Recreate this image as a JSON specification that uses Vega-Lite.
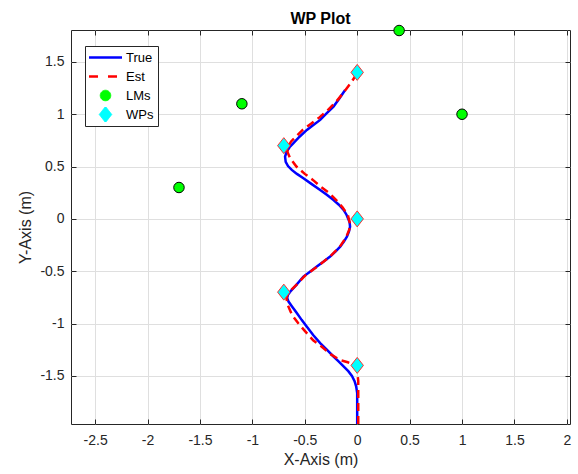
{
  "$schema": "https://vega.github.io/schema/vega-lite/v6.json",
  "autosize": "none",
  "width": 499,
  "height": 394,
  "padding": {"left": 71, "top": 30, "right": 8, "bottom": 50},
  "title": {"text": "WP Plot", "font": "Liberation Sans", "fontSize": 16, "fontWeight": "bold", "color": "#000000", "offset": -4},
  "config": {
    "view": {"stroke": "#262626", "strokeWidth": 1},
    "font": "Liberation Sans",
    "axis": {
      "domain": false,
      "grid": true,
      "gridColor": "#dfdfdf",
      "gridWidth": 1,
      "tickColor": "#262626",
      "tickSize": -5,
      "tickWidth": 1,
      "labelFont": "Liberation Sans",
      "labelFontSize": 14,
      "labelColor": "#262626",
      "labelExpr": "'' + datum.value",
      "titleFont": "Liberation Sans",
      "titleFontSize": 16,
      "titleFontWeight": "normal",
      "titleColor": "#262626"
    }
  },
  "data": {
    "values": [
      {"series": "True", "i": 1, "x": 0.0, "y": -1.96},
      {"series": "True", "i": 2, "x": 0.0, "y": -1.8},
      {"series": "True", "i": 3, "x": 0.0, "y": -1.665},
      {"series": "True", "i": 4, "x": -0.01, "y": -1.6},
      {"series": "True", "i": 5, "x": -0.025, "y": -1.55},
      {"series": "True", "i": 6, "x": -0.05, "y": -1.5},
      {"series": "True", "i": 7, "x": -0.085, "y": -1.455},
      {"series": "True", "i": 8, "x": -0.13, "y": -1.41},
      {"series": "True", "i": 9, "x": -0.18, "y": -1.36},
      {"series": "True", "i": 10, "x": -0.226, "y": -1.315},
      {"series": "True", "i": 11, "x": -0.29, "y": -1.25},
      {"series": "True", "i": 12, "x": -0.353, "y": -1.187},
      {"series": "True", "i": 13, "x": -0.42, "y": -1.11},
      {"series": "True", "i": 14, "x": -0.48, "y": -1.03},
      {"series": "True", "i": 15, "x": -0.53, "y": -0.965},
      {"series": "True", "i": 16, "x": -0.576, "y": -0.9},
      {"series": "True", "i": 17, "x": -0.62, "y": -0.84},
      {"series": "True", "i": 18, "x": -0.655, "y": -0.79},
      {"series": "True", "i": 19, "x": -0.668, "y": -0.755},
      {"series": "True", "i": 20, "x": -0.66, "y": -0.725},
      {"series": "True", "i": 21, "x": -0.63, "y": -0.685},
      {"series": "True", "i": 22, "x": -0.58, "y": -0.63},
      {"series": "True", "i": 23, "x": -0.513, "y": -0.551},
      {"series": "True", "i": 24, "x": -0.45, "y": -0.505},
      {"series": "True", "i": 25, "x": -0.385, "y": -0.456},
      {"series": "True", "i": 26, "x": -0.32, "y": -0.408},
      {"series": "True", "i": 27, "x": -0.258, "y": -0.36},
      {"series": "True", "i": 28, "x": -0.205, "y": -0.31},
      {"series": "True", "i": 29, "x": -0.162, "y": -0.265},
      {"series": "True", "i": 30, "x": -0.125, "y": -0.215},
      {"series": "True", "i": 31, "x": -0.098, "y": -0.169},
      {"series": "True", "i": 32, "x": -0.078, "y": -0.12},
      {"series": "True", "i": 33, "x": -0.068, "y": -0.074},
      {"series": "True", "i": 34, "x": -0.072, "y": -0.035},
      {"series": "True", "i": 35, "x": -0.085, "y": 0.0},
      {"series": "True", "i": 36, "x": -0.102, "y": 0.04},
      {"series": "True", "i": 37, "x": -0.13, "y": 0.086},
      {"series": "True", "i": 38, "x": -0.175, "y": 0.135},
      {"series": "True", "i": 39, "x": -0.226, "y": 0.18},
      {"series": "True", "i": 40, "x": -0.29, "y": 0.23},
      {"series": "True", "i": 41, "x": -0.353, "y": 0.277},
      {"series": "True", "i": 42, "x": -0.43, "y": 0.33},
      {"series": "True", "i": 43, "x": -0.513, "y": 0.389},
      {"series": "True", "i": 44, "x": -0.575, "y": 0.43},
      {"series": "True", "i": 45, "x": -0.624, "y": 0.468},
      {"series": "True", "i": 46, "x": -0.66, "y": 0.505},
      {"series": "True", "i": 47, "x": -0.682, "y": 0.545},
      {"series": "True", "i": 48, "x": -0.688, "y": 0.595},
      {"series": "True", "i": 49, "x": -0.672, "y": 0.643},
      {"series": "True", "i": 50, "x": -0.645, "y": 0.685},
      {"series": "True", "i": 51, "x": -0.608, "y": 0.723},
      {"series": "True", "i": 52, "x": -0.55, "y": 0.785},
      {"series": "True", "i": 53, "x": -0.48, "y": 0.85},
      {"series": "True", "i": 54, "x": -0.415, "y": 0.9},
      {"series": "True", "i": 55, "x": -0.353, "y": 0.946},
      {"series": "True", "i": 56, "x": -0.29, "y": 1.01},
      {"series": "True", "i": 57, "x": -0.226, "y": 1.073},
      {"series": "True", "i": 58, "x": -0.17, "y": 1.15},
      {"series": "True", "i": 59, "x": -0.115, "y": 1.232},

      {"series": "Est", "i": 1, "x": 0.01, "y": -1.96},
      {"series": "Est", "i": 2, "x": 0.01, "y": -1.75},
      {"series": "Est", "i": 3, "x": 0.01, "y": -1.55},
      {"series": "Est", "i": 4, "x": 0.0, "y": -1.45},
      {"series": "Est", "i": 5, "x": -0.04, "y": -1.39},
      {"series": "Est", "i": 6, "x": -0.09, "y": -1.37},
      {"series": "Est", "i": 7, "x": -0.16, "y": -1.35},
      {"series": "Est", "i": 8, "x": -0.26, "y": -1.29},
      {"series": "Est", "i": 9, "x": -0.34, "y": -1.22},
      {"series": "Est", "i": 10, "x": -0.42, "y": -1.16},
      {"series": "Est", "i": 11, "x": -0.5, "y": -1.07},
      {"series": "Est", "i": 12, "x": -0.56, "y": -1.0},
      {"series": "Est", "i": 13, "x": -0.62, "y": -0.92},
      {"series": "Est", "i": 14, "x": -0.66, "y": -0.83},
      {"series": "Est", "i": 15, "x": -0.675, "y": -0.76},
      {"series": "Est", "i": 16, "x": -0.665, "y": -0.72},
      {"series": "Est", "i": 17, "x": -0.63, "y": -0.68},
      {"series": "Est", "i": 18, "x": -0.57, "y": -0.62},
      {"series": "Est", "i": 19, "x": -0.5, "y": -0.545},
      {"series": "Est", "i": 20, "x": -0.38, "y": -0.455},
      {"series": "Est", "i": 21, "x": -0.26, "y": -0.36},
      {"series": "Est", "i": 22, "x": -0.165, "y": -0.265},
      {"series": "Est", "i": 23, "x": -0.105, "y": -0.175},
      {"series": "Est", "i": 24, "x": -0.075, "y": -0.1},
      {"series": "Est", "i": 25, "x": -0.07, "y": -0.04},
      {"series": "Est", "i": 26, "x": -0.09, "y": 0.04},
      {"series": "Est", "i": 27, "x": -0.14, "y": 0.11},
      {"series": "Est", "i": 28, "x": -0.2, "y": 0.18},
      {"series": "Est", "i": 29, "x": -0.27, "y": 0.25},
      {"series": "Est", "i": 30, "x": -0.35, "y": 0.31},
      {"series": "Est", "i": 31, "x": -0.42, "y": 0.37},
      {"series": "Est", "i": 32, "x": -0.5, "y": 0.43},
      {"series": "Est", "i": 33, "x": -0.58, "y": 0.5},
      {"series": "Est", "i": 34, "x": -0.64, "y": 0.58},
      {"series": "Est", "i": 35, "x": -0.665, "y": 0.64},
      {"series": "Est", "i": 36, "x": -0.66, "y": 0.69},
      {"series": "Est", "i": 37, "x": -0.63, "y": 0.74},
      {"series": "Est", "i": 38, "x": -0.58, "y": 0.79},
      {"series": "Est", "i": 39, "x": -0.52, "y": 0.85},
      {"series": "Est", "i": 40, "x": -0.44, "y": 0.91},
      {"series": "Est", "i": 41, "x": -0.36, "y": 0.97},
      {"series": "Est", "i": 42, "x": -0.28, "y": 1.04},
      {"series": "Est", "i": 43, "x": -0.2, "y": 1.12},
      {"series": "Est", "i": 44, "x": -0.12, "y": 1.22},
      {"series": "Est", "i": 45, "x": -0.06, "y": 1.3},
      {"series": "Est", "i": 46, "x": -0.02, "y": 1.36},

      {"series": "LMs", "i": 1, "x": -1.7, "y": 0.3},
      {"series": "LMs", "i": 2, "x": -1.1, "y": 1.1},
      {"series": "LMs", "i": 3, "x": 0.4, "y": 1.8},
      {"series": "LMs", "i": 4, "x": 1.0, "y": 1.0},

      {"series": "WPs", "i": 1, "x": 0.0, "y": 1.4},
      {"series": "WPs", "i": 2, "x": -0.7, "y": 0.7},
      {"series": "WPs", "i": 3, "x": 0.0, "y": 0.0},
      {"series": "WPs", "i": 4, "x": -0.7, "y": -0.7},
      {"series": "WPs", "i": 5, "x": 0.0, "y": -1.4}
    ]
  },
  "resolve": {"axis": {"x": "independent", "y": "independent"}},
  "layer": [
    {
      "transform": [{"filter": "datum.series === 'True'"}],
      "mark": {"type": "line", "strokeWidth": 2.5, "clip": true},
      "encoding": {
        "x": {"field": "x", "type": "quantitative",
              "scale": {"domain": [-2.73, 2.03], "nice": false, "zero": false},
              "axis": {"orient": "bottom", "values": [-2.5, -2, -1.5, -1, -0.5, 0, 0.5, 1, 1.5, 2], "title": "X-Axis (m)", "labelPadding": 14, "titlePadding": 4}},
        "y": {"field": "y", "type": "quantitative",
              "scale": {"domain": [-1.96, 1.805], "nice": false, "zero": false},
              "axis": {"orient": "left", "values": [-1.5, -1, -0.5, 0, 0.5, 1, 1.5], "title": "Y-Axis (m)", "labelPadding": 12, "titlePadding": 6}},
        "order": {"field": "i", "type": "quantitative"},
        "color": {
          "field": "series", "type": "nominal",
          "scale": {"domain": ["True", "Est", "LMs", "WPs"], "range": ["#0000ff", "#ff0000", "#00ff00", "#00ffff"]},
          "legend": {
            "title": null,
            "orient": "none",
            "legendX": 14,
            "legendY": 16,
            "fillColor": "#ffffff",
            "strokeColor": "#262626",
            "padding": 4,
            "rowPadding": 4,
            "clipHeight": 15,
            "symbolSize": 1089,
            "symbolType": "stroke",
            "symbolOffset": 10,
            "labelOffset": 14,
            "labelFont": "Liberation Sans",
            "labelFontSize": 13,
            "labelColor": "#000000",
            "encode": {
              "symbols": {
                "update": {
                  "shape": {"signal": "datum.value === 'LMs' ? 'circle' : datum.value === 'WPs' ? 'M0,-1.28L1,0L0,1.28L-1,0Z' : 'stroke'"},
                  "fill": {"signal": "datum.value === 'LMs' ? '#00ff00' : datum.value === 'WPs' ? '#00ffff' : 'transparent'"},
                  "stroke": {"signal": "datum.value === 'True' ? '#0000ff' : datum.value === 'LMs' ? '#000000' : '#ff0000'"},
                  "strokeDash": {"signal": "datum.value === 'Est' ? [9, 10] : [1, 0]"},
                  "strokeWidth": {"signal": "datum.value === 'True' || datum.value === 'Est' ? 2.5 : 1"},
                  "size": {"signal": "datum.value === 'True' || datum.value === 'Est' ? 1089 : datum.value === 'LMs' ? 110 : 156"},
                  "opacity": {"value": 1}
                }
              }
            }
          }
        }
      }
    },
    {
      "transform": [{"filter": "datum.series === 'Est'"}],
      "mark": {"type": "line", "strokeWidth": 2.5, "color": "#ff0000", "strokeDash": [8, 5], "clip": true},
      "encoding": {
        "x": {"field": "x", "type": "quantitative", "axis": null},
        "y": {"field": "y", "type": "quantitative", "axis": null},
        "order": {"field": "i", "type": "quantitative"}
      }
    },
    {
      "transform": [{"filter": "datum.series === 'LMs'"}],
      "mark": {"type": "point", "shape": "circle", "filled": true, "fill": "#00ff00", "stroke": "#000000", "strokeWidth": 1, "size": 110, "opacity": 1},
      "encoding": {
        "x": {"field": "x", "type": "quantitative", "axis": null},
        "y": {"field": "y", "type": "quantitative", "axis": null}
      }
    },
    {
      "transform": [{"filter": "datum.series === 'WPs'"}],
      "mark": {"type": "point", "shape": "M0,-1.28L1,0L0,1.28L-1,0Z", "filled": true, "fill": "#00ffff", "stroke": "#ff3030", "strokeWidth": 1, "size": 156, "opacity": 1},
      "encoding": {
        "x": {"field": "x", "type": "quantitative", "axis": null},
        "y": {"field": "y", "type": "quantitative", "axis": null}
      }
    },
    {
      "transform": [{"filter": "datum.series === 'WPs'"}],
      "mark": {"type": "point", "opacity": 0},
      "encoding": {
        "x": {"field": "x", "type": "quantitative",
              "axis": {"orient": "top", "values": [-2.5, -2, -1.5, -1, -0.5, 0, 0.5, 1, 1.5, 2], "labels": false, "grid": false, "title": null}},
        "y": {"field": "y", "type": "quantitative",
              "axis": {"orient": "right", "values": [-1.5, -1, -0.5, 0, 0.5, 1, 1.5], "labels": false, "grid": false, "title": null}}
      }
    }
  ]
}
